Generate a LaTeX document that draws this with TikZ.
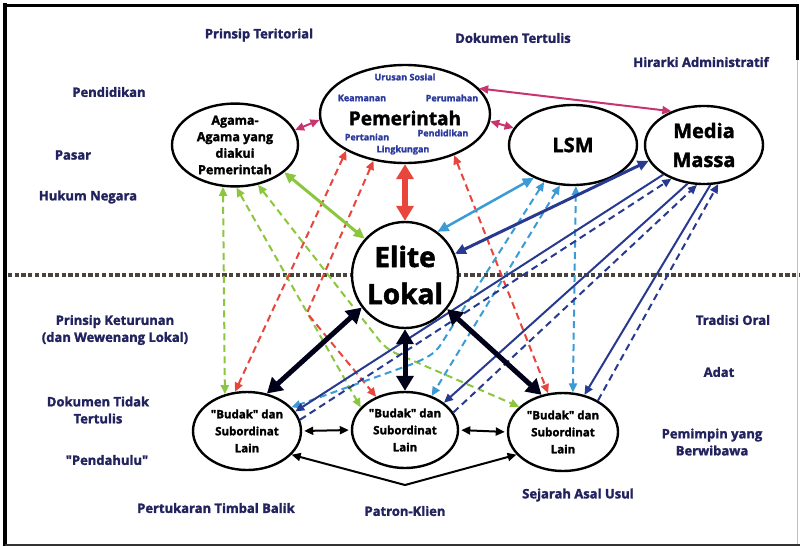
\documentclass[tikz,border=0pt]{standalone}
\usepackage{fontspec}
\setmainfont{Open Sans}[Ligatures=TeXOff, BoldFeatures={FakeBold=1.8}]
\usetikzlibrary{arrows.meta,shapes.geometric}

\definecolor{lblnavy}{HTML}{22235E}
\definecolor{innerblue}{HTML}{2B3A9E}
\definecolor{cred}{HTML}{E8453C}
\definecolor{cgreen}{HTML}{8CC63F}
\definecolor{clblue}{HTML}{3A9BD5}
\definecolor{cdblue}{HTML}{283A90}
\definecolor{cmag}{HTML}{C9336F}
\definecolor{dotline}{HTML}{4A423D}

\tikzset{
  ell/.style={ellipse, draw=black, line width=2.4pt, fill=white, inner sep=0pt,
              align=center, font=\bfseries},
  lbl/.style={text=lblnavy, font=\fontsize{13}{17}\selectfont\bfseries, align=center},
  inner/.style={text=innerblue, font=\fontsize{9}{10}\selectfont\bfseries},
  dsh/.style={dash pattern=on 7pt off 4.5pt, line width=2pt},
  tipsmall/.style={>={Triangle[length=9pt,width=8pt]}},
  tipmid/.style={>={Triangle[length=11pt,width=10pt]}},
  tipbig/.style={>={Triangle[length=15pt,width=17pt]}},
  reddash/.style={dsh, draw=cred, tipsmall, <->},
  greendash/.style={dsh, draw=cgreen, tipsmall, <->},
  bluedash/.style={dsh, draw=clblue, tipsmall, <->},
  navydash/.style={dsh, draw=cdblue, tipsmall, ->},
  navyline/.style={line width=2pt, draw=cdblue, tipsmall, ->},
  magline/.style={line width=2pt, draw=cmag, tipsmall, <->},
  blkthick/.style={line width=5pt, draw=black!90!blue, tipbig, <->},
  blkthin/.style={line width=2pt, draw=black, tipsmall, <->},
}

\begin{document}
\begin{tikzpicture}[x=1pt,y=-1pt]
\useasboundingbox (0,0) rectangle (800,546);
\fill[white] (0,0) rectangle (800,546);

% outer frame
\draw[line width=4pt] (5,3) -- (5,546);
\draw[line width=3pt] (3,5) -- (797,5);
\draw[line width=3pt] (797,4) -- (797,60);
\draw[line width=1pt, black!25] (797,60) -- (797,544);
\draw[line width=2pt, black!80] (5,545) -- (800,545);

% boundary between the state level and the local level
\draw[dotline, line width=4.5pt, dash pattern=on 4.3pt off 2.4pt] (8,275) -- (800,275);

% actors
\node[ell, minimum width=170pt, minimum height=98pt] (pem) at (405,114) {};
\node[font=\fontsize{19}{20}\selectfont\bfseries] (pemtxt) at (405,118) {Pemerintah};
\node[inner] (i1) at (405,77) {Urusan Sosial};
\node[inner] (i2) at (362,98) {Keamanan};
\node[inner] (i3) at (452,98) {Perumahan};
\node[inner] (i4) at (367,137) {Pertanian};
\node[inner] (i5) at (443,133) {Pendidikan};
\node[inner] (i6) at (403,150) {Lingkungan};

\node[ell, minimum width=126pt, minimum height=82pt,
      font=\fontsize{12.5}{16.5}\selectfont\bfseries] (agama) at (235,145)
      {Agama-\\Agama yang\\diakui\\Pemerintah};
\node[ell, minimum width=128pt, minimum height=80pt,
      font=\fontsize{20}{24}\selectfont\bfseries] (lsm) at (573,145) {LSM};
\node[ell, minimum width=118pt, minimum height=78pt,
      font=\fontsize{20}{29}\selectfont\bfseries] (media) at (704,145) {Media\\Massa};
\node[ell, circle, minimum size=106pt,
      font=\fontsize{28}{37}\selectfont\bfseries] (elite) at (405,275) {Elite\\Lokal};

\node[ell, minimum width=108pt, minimum height=78pt,
      font=\fontsize{11.5}{17}\selectfont\bfseries] (bl) at (247,431)
      {"Budak" dan\\Subordinat\\Lain};
\node[ell, minimum width=106pt, minimum height=76pt,
      font=\fontsize{11.5}{17}\selectfont\bfseries] (bm) at (405,430)
      {"Budak" dan\\Subordinat\\Lain};
\node[ell, minimum width=110pt, minimum height=78pt,
      font=\fontsize{11.5}{17}\selectfont\bfseries] (br) at (563,432)
      {"Budak" dan\\Subordinat\\Lain};

% principles of each level
\node[lbl] (l1) at (259,35) {Prinsip Teritorial};
\node[lbl] (l2) at (513,38) {Dokumen Tertulis};
\node[lbl] (l3) at (701,62) {Hirarki Administratif};
\node[lbl] (l4) at (109,92) {Pendidikan};
\node[lbl] (l5) at (73,155) {Pasar};
\node[lbl] (l6) at (88,197) {Hukum Negara};
\node[lbl] (l7) at (115,330) {Prinsip Keturunan\\(dan Wewenang Lokal)};
\node[lbl] (l8) at (98,410) {Dokumen Tidak\\Tertulis};
\node[lbl] (l9) at (107,460) {"Pendahulu"};
\node[lbl] (l10) at (216,508) {Pertukaran Timbal Balik};
\node[lbl] (l11) at (405,511) {Patron-Klien};
\node[lbl] (l12) at (578,495) {Sejarah Asal Usul};
\node[lbl] (l13) at (733,320) {Tradisi Oral};
\node[lbl] (l14) at (719,372) {Adat};
\node[lbl] (l15) at (712,442) {Pemimpin yang\\Berwibawa};

% bend points of the routed links
\coordinate (pk) at (405,485);
\coordinate (gbend) at (386,349);
\coordinate (rbend) at (307,313);
\coordinate (bbend1) at (436,352);
\coordinate (bbend2) at (418,362);

% dashed links from the state actors to the subordinates
\draw[greendash] (agama.254) -- (bl.121);
\draw[greendash] (agama.272) -- (bm.153);
\draw[greendash, rounded corners=10pt] (agama.-60) -- (gbend) -- (br.150);

\draw[reddash] (pem.212) -- (bl.107);
\draw[reddash] (pem.236) -- (rbend) -- (bm.131);
\draw[reddash] (pem.-40) -- (br.111);

\draw[bluedash, rounded corners=8pt] (lsm.232) -- (bbend1) -- (bbend2) -- (bl.28);
\draw[bluedash] (lsm.252) -- (bm.52);
\draw[bluedash] (lsm.-86) -- (br.76);

\draw[navyline] (media.216) -- (bl.22);
\draw[navydash] (bl.12) -- (media.226);
\draw[navyline] (media.247) -- (bm.35);
\draw[navydash] (bm.20) -- (media.260);
\draw[navyline] (media.279) -- (br.60);
\draw[navydash] (br.42) -- (media.290);

% links between the state actors
\draw[magline] (agama.14) -- (pem.184);
\draw[magline] (pem.-5) -- (lsm.164);
\draw[magline] (pem.19) -- (media.134);

% direct links to the local elite
\draw[line width=6pt, cred, tipbig, <->] (pem.270) -- (elite.90);
\draw[line width=3pt, cgreen, tipmid, <->] (agama.-29) -- (elite.138);
\draw[line width=2.5pt, clblue, tipmid, <->] (lsm.220) -- (elite.53);
\draw[line width=3pt, cdblue, tipmid, <->] (media.196) -- (elite.23);

% local elite and subordinates
\draw[blkthick] (elite.217) -- (bl.62);
\draw[blkthick] (elite.270) -- (bm.90);
\draw[blkthick] (elite.-39) -- (br.120);

\draw[blkthin, shorten <=2pt, shorten >=2pt] (bl.0) -- (bm.180);
\draw[blkthin, shorten <=2pt, shorten >=2pt] (bm.0) -- (br.180);
\draw[blkthin] (bl.-28) -- (pk) -- (br.206);
\end{tikzpicture}
\end{document}
